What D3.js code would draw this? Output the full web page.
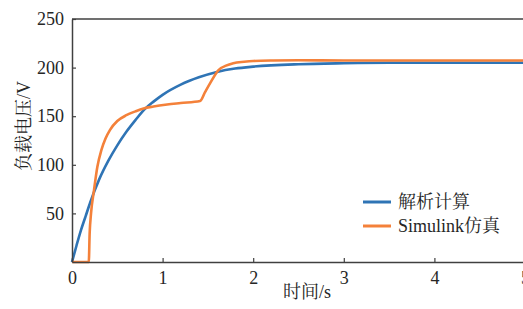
<!DOCTYPE html>
<html>
<head>
<meta charset="utf-8">
<script src="https://cdn.jsdelivr.net/npm/d3@7"></script>
<style>
  body { margin: 0; background: #fff; }
</style>
</head>
<body>
<div id="vis"></div>
<script>
// values (time in s, voltage in V)
var calcT = [0, 0.05, 0.1, 0.15, 0.2, 0.3, 0.4, 0.5, 0.6, 0.7, 0.8, 0.9, 1.0, 1.2, 1.4, 1.6, 1.8, 2.0, 2.5, 3.0, 3.5, 4.0, 5.0];
var calcV = [0, 17, 33, 47, 61, 85, 104, 120, 134, 146, 157, 165, 172, 182.5, 190, 195.5, 199, 201, 203.5, 204.5, 205, 205, 205];

var simT = [0, 0.185, 0.195, 0.21, 0.243, 0.28, 0.324, 0.37, 0.42, 0.5, 0.6, 0.7, 0.79, 0.9, 1.05, 1.2, 1.414, 1.47, 1.525, 1.617, 1.7, 1.78, 1.9, 2.0, 2.22, 2.5, 3.0, 4.0, 5.0];
var simV = [0, 0, 30, 50, 74, 98, 115, 127, 136, 145, 151, 155, 158, 160, 162, 163.5, 165.6, 175, 184, 197.5, 202, 204.5, 206, 206.8, 207.3, 207.5, 207.3, 207.3, 207.3];

var xTicks = [0, 1, 2, 3, 4, 5];
var yTicks = [50, 100, 150, 200, 250];
var seriesNames = ['解析计算', 'Simulink仿真'];
var seriesColors = ['#2f74b5', '#f4813a'];

var width = 523;
var height = 309;
var margin = { left: 72, top: 19, right: -2, bottom: 47 };
var fontStack = '"Liberation Serif", "Noto Serif CJK SC", serif';
var textColor = '#262626';

var svg = d3.select('#vis').append('svg')
  .attr('width', width)
  .attr('height', height);

var x = d3.scaleLinear().domain([0, 5]).range([margin.left, width - margin.right]);
var y = d3.scaleLinear().domain([0, 250]).range([height - margin.bottom, margin.top]);

var axisColor = '#404040';

var line = d3.line()
  .x(function (d) { return x(d[0]); })
  .y(function (d) { return y(d[1]); })
  .curve(d3.curveMonotoneX);

var calcData = calcT.map(function (t, i) { return [t, calcV[i]]; });
var simData = simT.map(function (t, i) { return [t, simV[i]]; });

svg.append('path').datum(calcData)
  .attr('d', line)
  .attr('fill', 'none')
  .attr('stroke', seriesColors[0])
  .attr('stroke-width', 2.6);

svg.append('path').datum(simData)
  .attr('d', line)
  .attr('fill', 'none')
  .attr('stroke', seriesColors[1])
  .attr('stroke-width', 2.6);

// frame: top line + axes
svg.append('line')
  .attr('x1', x(0)).attr('x2', width)
  .attr('y1', y(250)).attr('y2', y(250))
  .attr('stroke', axisColor).attr('stroke-width', 1.5);

var xAxis = svg.append('g')
  .attr('transform', 'translate(0,' + y(0) + ')')
  .call(d3.axisBottom(x).tickValues(xTicks).tickFormat(d3.format('d'))
    .tickSizeInner(-4).tickSizeOuter(0).tickPadding(9));

var yAxis = svg.append('g')
  .attr('transform', 'translate(' + x(0) + ',0)')
  .call(d3.axisLeft(y).tickValues(yTicks).tickFormat(d3.format('d'))
    .tickSizeInner(-4).tickSizeOuter(0).tickPadding(8));

[xAxis, yAxis].forEach(function (g) {
  g.select('.domain').attr('stroke', axisColor).attr('stroke-width', 1.5);
  g.selectAll('.tick line').attr('stroke', axisColor).attr('stroke-width', 1.2);
  g.selectAll('.tick text')
    .attr('fill', textColor)
    .style('font-family', fontStack)
    .style('font-size', '18px');
});

// axis titles
svg.append('text')
  .attr('x', 307)
  .attr('y', 298)
  .attr('text-anchor', 'middle')
  .attr('fill', textColor)
  .style('font-family', fontStack)
  .style('font-size', '18px')
  .text('时间/s');

svg.append('text')
  .attr('transform', 'translate(30,126) rotate(-90)')
  .attr('text-anchor', 'middle')
  .attr('fill', textColor)
  .style('font-family', fontStack)
  .style('font-size', '18px')
  .text('负载电压/V');

// legend
var legend = svg.append('g').attr('transform', 'translate(363,202)');
seriesNames.forEach(function (name, i) {
  var row = legend.append('g').attr('transform', 'translate(0,' + (i * 24) + ')');
  row.append('line')
    .attr('x1', 0).attr('x2', 28)
    .attr('stroke', seriesColors[i])
    .attr('stroke-width', 3);
  row.append('text')
    .attr('x', 35)
    .attr('y', 6)
    .attr('fill', textColor)
    .style('font-family', fontStack)
    .style('font-size', '18px')
    .text(name);
});
</script>
</body>
</html>
